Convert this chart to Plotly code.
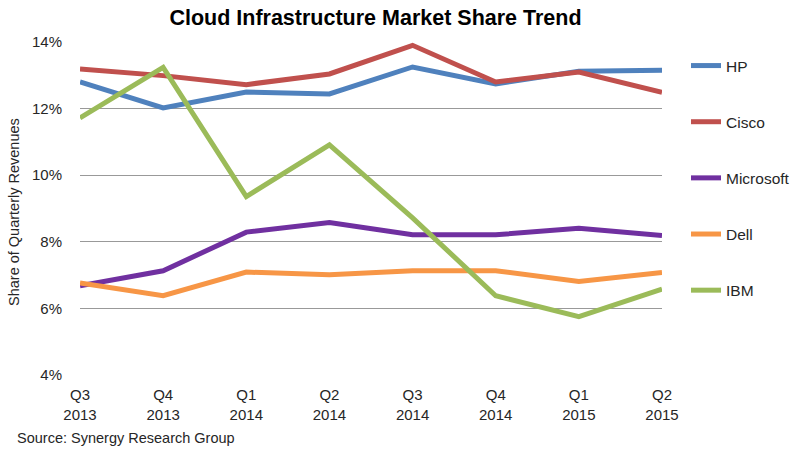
import plotly.graph_objects as go

quarters = ["Q3<br>2013", "Q4<br>2013", "Q1<br>2014", "Q2<br>2014",
            "Q3<br>2014", "Q4<br>2014", "Q1<br>2015", "Q2<br>2015"]
hp = [12.80, 12.02, 12.50, 12.44, 13.25, 12.74, 13.12, 13.15]
cisco = [13.19, 12.99, 12.72, 13.04, 13.90, 12.80, 13.10, 12.49]
microsoft = [6.68, 7.13, 8.29, 8.58, 8.21, 8.21, 8.41, 8.19]
dell = [6.76, 6.38, 7.09, 7.01, 7.13, 7.13, 6.81, 7.08]
ibm = [11.72, 13.24, 9.36, 10.91, 8.72, 6.38, 5.75, 6.58]

y_ticks = [4, 6, 8, 10, 12, 14]
y_ticklabels = ["4%", "6%", "8%", "10%", "12%", "14%"]

series = [
    ("HP", hp, "#4F81BD"),
    ("Cisco", cisco, "#C0504D"),
    ("Microsoft", microsoft, "#7030A0"),
    ("Dell", dell, "#F79646"),
    ("IBM", ibm, "#9BBB59"),
]

x_idx = list(range(len(quarters)))
FONT = "Liberation Sans, Arial, sans-serif"
TXT = "#262626"

fig = go.Figure()
for name, vals, color in series:
    fig.add_trace(go.Scatter(
        x=x_idx, y=vals, mode="lines", name=name, legendgroup=name,
        line=dict(color=color, width=5),
    ))

# plot area: x 80..662, y 42..375 (page pixels)
fig.update_layout(
    width=800, height=453,
    margin=dict(l=80, r=138, t=42, b=78, autoexpand=False),
    paper_bgcolor="white", plot_bgcolor="white",
    font=dict(family=FONT, size=15, color=TXT),
    title=dict(text="<b>Cloud Infrastructure Market Share Trend</b>",
               xref="container", x=375.5 / 800, xanchor="center",
               yref="container", y=1 - 17.5 / 453, yanchor="middle",
               font=dict(size=21.5, color="#000000", family=FONT)),
    showlegend=True,
    legend=dict(x=(686 - 80) / 582, xanchor="left", y=0.979, yanchor="top",
                traceorder="grouped", tracegroupgap=33,
                font=dict(size=15.5, color=TXT, family=FONT),
                bgcolor="rgba(0,0,0,0)"),
    xaxis=dict(range=[0, 7], tickmode="array", tickvals=x_idx, ticktext=quarters,
               showgrid=False, zeroline=False, showline=False,
               ticks="", ticklabelstandoff=9,
               tickfont=dict(size=15, color=TXT)),
    yaxis=dict(range=[4, 14], tickmode="array", tickvals=y_ticks, ticktext=y_ticklabels,
               showgrid=True, gridcolor="#999999", gridwidth=1.2,
               zeroline=False, showline=False, ticks="",
               ticklabelstandoff=17,
               tickfont=dict(size=15, color=TXT)),
    annotations=[
        dict(text="Share of Quarterly Revenues", textangle=-90,
             xref="paper", yref="paper", x=(14 - 80) / 582, y=(375 - 212) / 333,
             xanchor="center", yanchor="middle", showarrow=False,
             font=dict(size=14.5, color=TXT, family=FONT)),
        dict(text="Source: Synergy Research Group",
             xref="paper", yref="paper", x=(15 - 80) / 582, y=(375 - 438) / 333,
             xanchor="left", yanchor="middle", showarrow=False,
             font=dict(size=14.5, color=TXT, family=FONT)),
    ],
)

fig.write_html("out.html", config={"displayModeBar": False},
               post_script="document.body.style.margin='0';document.body.style.padding='0';")
